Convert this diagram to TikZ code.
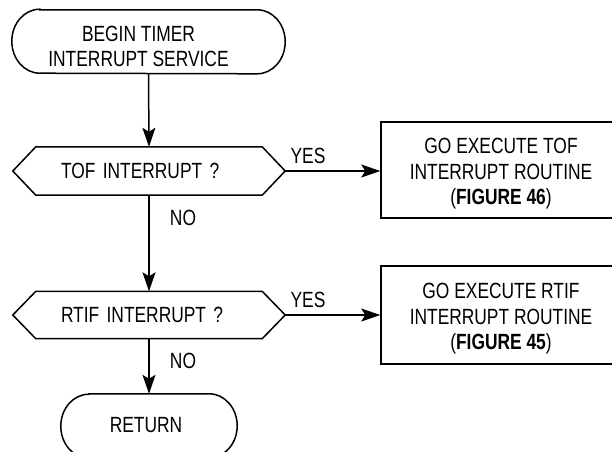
\documentclass[tikz,border=0pt]{standalone}
\usepackage{fontspec}
\setmainfont[FakeStretch=0.79]{Liberation Sans}
\usetikzlibrary{arrows.meta}
\newcommand\termoutline[1]{%
  \draw[lw] ([xshift=28pt]#1.north west) -- ([xshift=-28pt]#1.north east)
    arc[start angle=90,end angle=-90,x radius=28pt,y radius=32pt]
    -- ([xshift=28pt]#1.south west)
    arc[start angle=270,end angle=90,x radius=28pt,y radius=32pt] -- cycle;}
\newcommand\hexoutline[1]{%
  \draw[lw] (#1.west) -- ([xshift=23pt]#1.north west) -- ([xshift=-23pt]#1.north east)
    -- (#1.east) -- ([xshift=-23pt]#1.south east) -- ([xshift=23pt]#1.south west) -- cycle;}
\begin{document}
\begin{tikzpicture}[x=1pt,y=1pt,
  lw/.style={line width=1.5pt},
  txt/.style={font=\fontsize{22}{25.5}\selectfont, align=center, inner sep=0pt},
  termbox/.style={draw=none, minimum height=64pt, inner sep=0pt},
  hexbox/.style={draw=none, txt, minimum width=272pt, text width=176pt, align=left, inner sep=0pt},
  procbox/.style={draw, lw, minimum width=240pt, inner sep=0pt},
  arr/.style={lw, -{Stealth[length=19pt,width=13pt,inset=4pt]}},
  lab/.style={txt}]
\useasboundingbox (0,0) rectangle (612,-451);
\clip (0,0) rectangle (612,-451);
\node (begin) [termbox, minimum width=273pt, minimum height=63pt,
  label={[txt,xshift=-10pt,yshift=-5pt]center:{BEGIN TIMER\\INTERRUPT SERVICE}}] at (148.5,-41.5) {};
\termoutline{begin}
\node (tof) [hexbox, minimum height=48pt] at (149,-171) {TOF INTERRUPT ?};
\hexoutline{tof}
\node (rtif) [hexbox, minimum height=47pt] at (149,-315) {RTIF INTERRUPT ?};
\hexoutline{rtif}
\node (ret) [termbox, minimum width=176pt,
  label={[txt,xshift=-3pt,yshift=1pt]center:RETURN}] at (149,-426) {};
\termoutline{ret}
\node (box1) [procbox, minimum height=96pt,
  label={[txt,yshift=-4pt]center:{GO EXECUTE TOF\\INTERRUPT ROUTINE\\(\textbf{FIGURE 46})}}] at (501,-170) {};
\node (box2) [procbox, minimum height=98pt,
  label={[txt,yshift=-4pt]center:{GO EXECUTE RTIF\\INTERRUPT ROUTINE\\(\textbf{FIGURE 45})}}] at (501,-315) {};
\draw[arr] (begin.south) -- (tof.north);
\draw[arr] (tof.south) -- (rtif.north);
\draw[arr] (rtif.south) -- (ret.north);
\draw[arr] (tof.east) -- (tof.east -| box1.west);
\draw[arr] (rtif.east) -- (rtif.east -| box2.west);
\node (no1) [lab] at (183,-217.5) {NO};
\node (no2) [lab] at (183,-360.5) {NO};
\node (yes1) [lab] at (308,-156) {YES};
\node (yes2) [lab] at (308,-300) {YES};
\end{tikzpicture}
\end{document}
